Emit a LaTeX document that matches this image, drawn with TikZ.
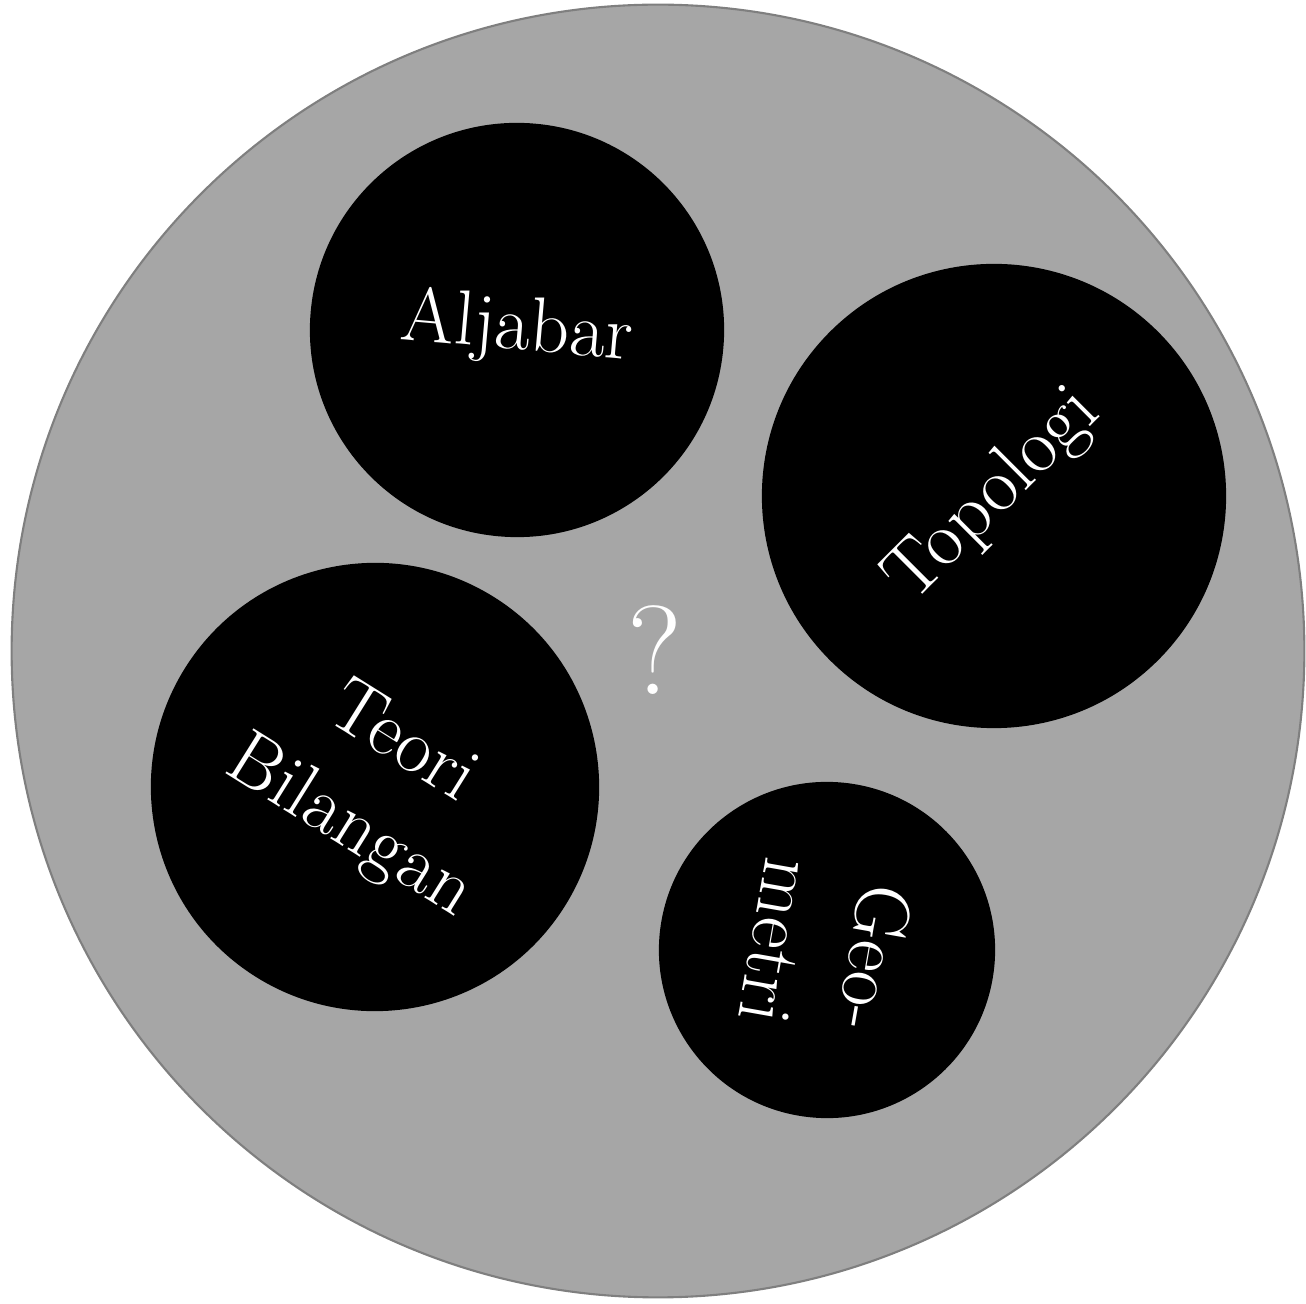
\documentclass[tikz,border=0pt]{standalone}
\usepackage{xcolor}
\definecolor{discgray}{HTML}{A6A6A6}
\definecolor{discedge}{HTML}{7F7F7F}

\begin{document}
\begin{tikzpicture}[x=0.01cm,y=-0.01cm,
  field/.style={circle,fill=black,inner sep=0pt,text=white,align=center,font=\fontsize{22}{28}\selectfont}]
\useasboundingbox (0,0) rectangle (1306,1304);
\node[circle,fill=discgray,draw=discedge,line width=0.6pt,minimum size=12.92cm,inner sep=0pt] (whole) at (658,651) {};
\foreach \n/\x/\y/\d/\a/\t in {aljabar/517/330/4.14/-5/Aljabar, topologi/994/496/4.64/45/Topologi, teori/375/787/4.48/-32/{Teori\\Bilangan}, geometri/827/950/3.36/-100/{Geo-\\metri}} {
  \node[field,minimum size=\d cm,rotate=\a] (\n) at (\x,\y) {\t};
}
\node[text=white,font=\fontsize{36}{40}\selectfont] (tanya) at (655,650) {?};
\end{tikzpicture}
\end{document}
